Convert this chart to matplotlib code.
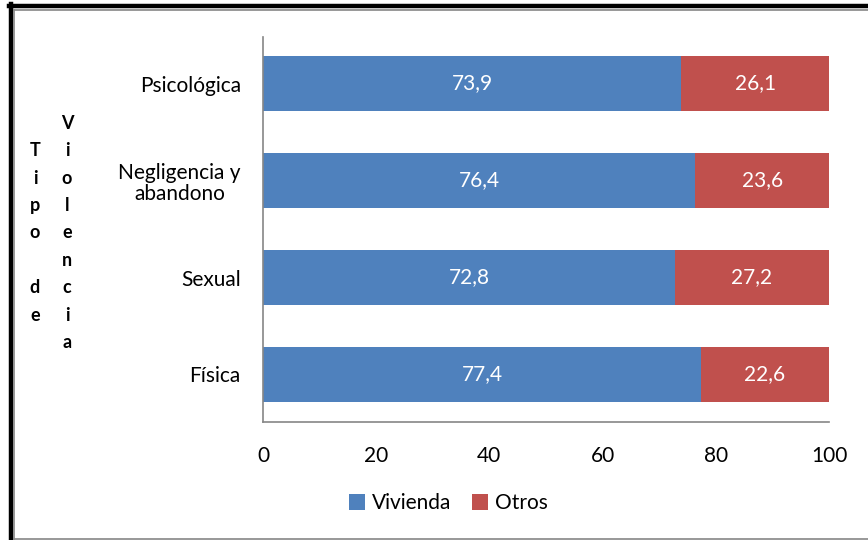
import matplotlib.pyplot as plt
from matplotlib.lines import Line2D

plt.rcParams['font.family'] = ['Lato', 'DejaVu Sans']

categorias = ['Física', 'Sexual', 'Negligencia y\nabandono', 'Psicológica']
vivienda = [77.4, 72.8, 76.4, 73.9]
otros = [22.6, 27.2, 23.6, 26.1]
ticks_x = [0, 20, 40, 60, 80, 100]

azul = '#4F81BD'
rojo = '#C0504D'
gris = '#868686'

fig = plt.figure(figsize=(8.68, 5.40), dpi=100)
ax = fig.add_axes([263 / 868, 1 - 422 / 540, (829 - 263) / 868, (422 - 37) / 540])

pos = range(len(categorias))
b1 = ax.barh(pos, vivienda, height=0.56, color=azul, label='Vivienda')
b2 = ax.barh(pos, otros, left=vivienda, height=0.56, color=rojo, label='Otros')

for barras in (b1, b2):
    ax.bar_label(barras, labels=[f'{v:.1f}'.replace('.', ',') for v in barras.datavalues],
                 label_type='center', color='white', fontsize=15)

ax.set_xlim(0, 100)
ax.set_ylim(-0.49, 3.48)
ax.set_xticks(ticks_x)
ax.set_yticks(list(pos))
ax.set_yticklabels(categorias, multialignment='center', linespacing=1.1)
ax.tick_params(axis='both', length=0, labelsize=15)
ax.tick_params(axis='x', pad=17)
ax.tick_params(axis='y', pad=16)

for s in ('top', 'right'):
    ax.spines[s].set_visible(False)
for s in ('left', 'bottom'):
    ax.spines[s].set_color(gris)
    ax.spines[s].set_linewidth(1.2)

# titulo del eje en dos columnas de letras
fig.text(35 / 868, 1 - 233 / 540, 'T\ni\np\no\n\nd\ne', ha='center', va='center',
         fontsize=13, fontweight='bold', linespacing=1.74)
fig.text(67 / 868, 1 - 233 / 540, 'V\ni\no\nl\ne\nn\nc\ni\na', ha='center', va='center',
         fontsize=13, fontweight='bold', linespacing=1.74)

fig.legend(handles=[b1, b2], labels=['Vivienda', 'Otros'], loc='center',
           bbox_to_anchor=(448 / 868, 1 - 503 / 540), ncol=2, frameon=False,
           fontsize=15, handlelength=0.8, handleheight=0.8, handletextpad=0.3,
           columnspacing=1.0)

# marco del grafico
W, H = 868, 540
fig.add_artist(Line2D([9 / W, 1], [1 - 6 / H, 1 - 6 / H], color='black', lw=3.2))
fig.add_artist(Line2D([11 / W, 11 / W], [0, 1 - 4 / H], color='black', lw=3.2))
fig.add_artist(Line2D([13.5 / W, 1], [1 - 9.5 / H, 1 - 9.5 / H], color=gris, lw=1.2))
fig.add_artist(Line2D([13.5 / W, 13.5 / W], [0, 1 - 9.5 / H], color=gris, lw=1.2))
fig.add_artist(Line2D([13.5 / W, 1], [1.5 / H, 1.5 / H], color=gris, lw=1.2))

fig.savefig('out.png', dpi=100)
